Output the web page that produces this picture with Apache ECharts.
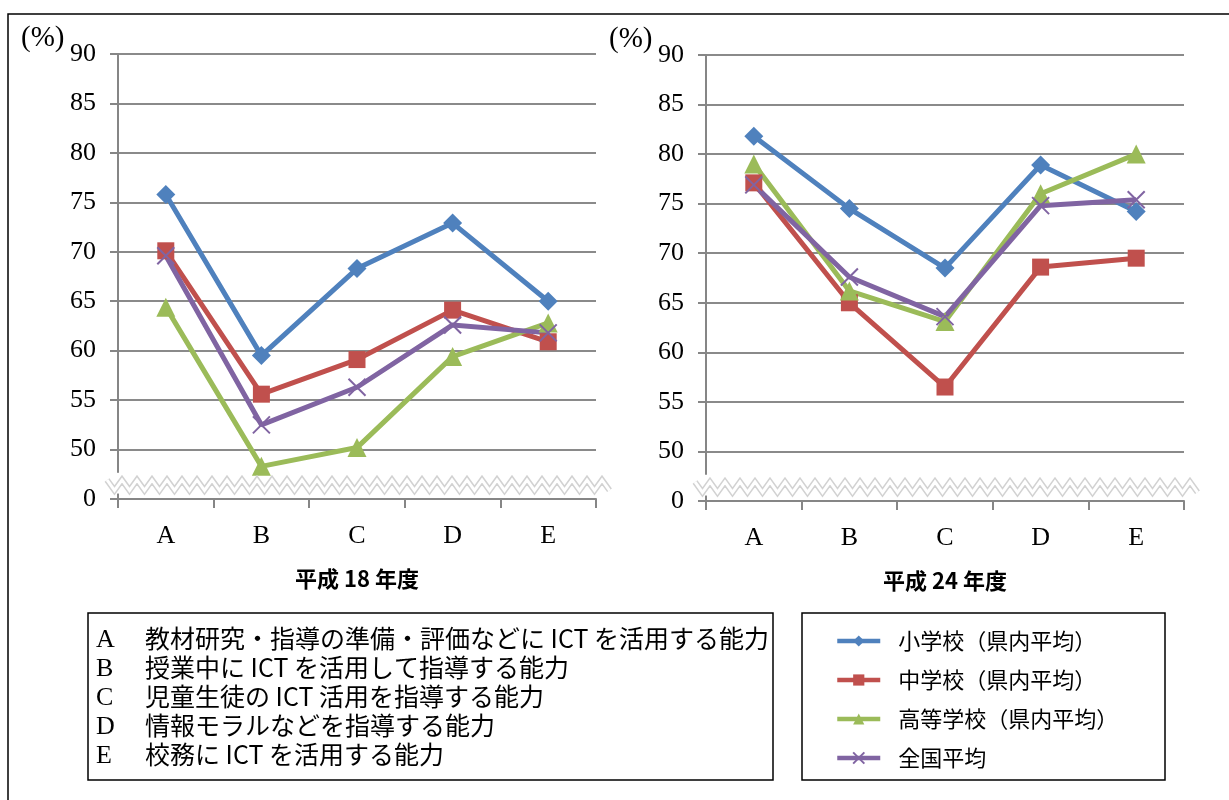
<!DOCTYPE html>
<html>
<head>
<meta charset="utf-8">
<script src="https://cdn.jsdelivr.net/npm/echarts@6/dist/echarts.min.js"></script>
<style>
  html, body { margin: 0; padding: 0; background: #fff; }
  #chart { width: 1229px; height: 800px; }
</style>
</head>
<body>
<div id="chart"></div>
<script>
// Ability categories and their descriptions
const categories = ['A', 'B', 'C', 'D', 'E'];
const categoryNotes = [
  '教材研究・指導の準備・評価などに ICT を活用する能力',
  '授業中に ICT を活用して指導する能力',
  '児童生徒の ICT 活用を指導する能力',
  '情報モラルなどを指導する能力',
  '校務に ICT を活用する能力'
];
const seriesNames = ['小学校（県内平均）', '中学校（県内平均）', '高等学校（県内平均）', '全国平均'];
const panelTitles = ['平成 18 年度', '平成 24 年度'];

// 平成18年度 (%)
const elementary18 = [75.8, 59.5, 68.3, 72.9, 65.0];
const juniorHigh18 = [70.1, 55.6, 59.1, 64.1, 60.9];
const highSchool18 = [64.4, 48.3, 50.2, 59.4, 62.8];
const national18   = [69.6, 52.5, 56.3, 62.6, 61.8];

// 平成24年度 (%)
const elementary24 = [81.8, 74.5, 68.5, 78.9, 74.2];
const juniorHigh24 = [77.1, 65.0, 56.5, 68.6, 69.5];
const highSchool24 = [79.0, 66.2, 63.1, 76.0, 80.0];
const national24   = [76.9, 67.6, 63.6, 74.8, 75.4];

// Value axis: the bottom tick stands for 0, the axis is broken between 0 and 50
const yMin = 45, yMax = 90, yStep = 5;
const brokenBaseLabel = '0';
const unitLabel = '(%)';

const colors = ['#4F81BD', '#C0504D', '#9BBB59', '#8064A2'];
const symbols = ['diamond', 'rect', 'triangle', 'path://M0,0L10,10M10,0L0,10'];
const symbolSizes = [19, 17, 19, 17];

const grids = [
  { left: 118, top: 54, width: 478, height: 445 },
  { left: 706, top: 55, width: 478, height: 446 }
];

const serifFont = '"Liberation Serif", "Times New Roman", serif';
const jpFont = '"Noto Sans CJK JP", "Noto Sans", sans-serif';
const axisGray = '#868686';

function makeSeries(name, data, k, panel) {
  const isCross = k === 3;
  return {
    type: 'line',
    name: name,
    data: data,
    xAxisIndex: panel,
    yAxisIndex: panel,
    symbol: symbols[k],
    symbolSize: symbolSizes[k],
    lineStyle: { color: colors[k], width: 5 },
    itemStyle: isCross
      ? { color: 'rgba(0,0,0,0)', borderColor: colors[k], borderWidth: 2 }
      : { color: colors[k] },
    emphasis: { disabled: true },
    animation: false
  };
}

const panelData = [
  [elementary18, juniorHigh18, highSchool18, national18],
  [elementary24, juniorHigh24, highSchool24, national24]
];

const series = [];
panelData.forEach((set, p) => set.forEach((d, k) => series.push(makeSeries(seriesNames[k], d, k, p))));

const xAxes = grids.map((g, i) => ({
  type: 'category',
  gridIndex: i,
  data: categories,
  boundaryGap: true,
  name: panelTitles[i],
  nameLocation: 'middle',
  nameGap: 69,
  nameTextStyle: { fontFamily: jpFont, fontSize: 22, fontWeight: 'bold', color: '#000' },
  axisLine: { lineStyle: { color: axisGray, width: 2 } },
  axisTick: { show: true, length: 9, lineStyle: { color: axisGray, width: 2 } },
  axisLabel: { fontFamily: serifFont, fontSize: 26, color: '#000', margin: 24 },
  splitLine: { show: false }
}));

const yAxes = grids.map((g, i) => ({
  type: 'value',
  gridIndex: i,
  min: yMin,
  max: yMax,
  interval: yStep,
  axisLine: { show: true, lineStyle: { color: axisGray, width: 2 } },
  axisTick: { show: true, length: 8, lineStyle: { color: axisGray, width: 2 } },
  axisLabel: {
    fontFamily: serifFont, fontSize: 26, color: '#000', margin: 22,
    formatter: v => (v === yMin ? brokenBaseLabel : String(v))
  },
  splitLine: { show: true, lineStyle: { color: '#8a8a8a', width: 1.8 } }
}));

const chart = echarts.init(document.getElementById('chart'));
chart.setOption({
  animation: false,
  backgroundColor: '#fff',
  grid: grids,
  xAxis: xAxes,
  yAxis: yAxes,
  series: series,
  legend: {
    data: seriesNames,
    orient: 'vertical',
    left: 830,
    top: 623,
    itemWidth: 43,
    itemHeight: 14,
    itemGap: 13,
    selectedMode: false,
    lineStyle: { width: 4.5 },
    textStyle: { fontFamily: jpFont, fontSize: 22, color: '#000', lineHeight: 26, padding: [0, 0, 0, 13] }
  }
});

// Decorations: outer frame, axis breaks, unit labels, note boxes
const graphics = [];
graphics.push({
  type: 'rect', silent: true, z: 0,
  shape: { x: 8, y: 14, width: 1250, height: 820 },
  style: { fill: 'none', stroke: '#000', lineWidth: 1.5 }
});

grids.forEach((g, i) => {
  const yBreak = chart.convertToPixel({ yAxisIndex: i }, 46.4);
  const yGapTop = chart.convertToPixel({ yAxisIndex: i }, 47.65);
  const yGapBottom = chart.convertToPixel({ yAxisIndex: i }, 45.55);
  // gap in the vertical axis line
  graphics.push({
    type: 'rect', silent: true, z: 10,
    shape: { x: g.left - 3, y: yGapTop, width: 6, height: yGapBottom - yGapTop },
    style: { fill: '#fff' }
  });
  // zigzag break band
  const pts = [];
  const x0 = g.left - 11, x1 = g.left + g.width + 16;
  const half = 7.5, amp = 5.2;
  let up = true;
  for (let x = x0; x <= x1 + 0.01; x += half) {
    pts.push([x, yBreak + (up ? -amp : amp)]);
    up = !up;
  }
  graphics.push({
    type: 'polyline', silent: true, z: 11,
    shape: { points: pts },
    style: { stroke: '#d2d2d2', lineWidth: 6, fill: 'none', lineJoin: 'miter' }
  });
  graphics.push({
    type: 'polyline', silent: true, z: 12,
    shape: { points: pts },
    style: { stroke: '#fff', lineWidth: 3, fill: 'none', lineJoin: 'miter' }
  });
  // unit label
  graphics.push({
    type: 'text', silent: true, z: 12,
    x: g.left - 97, y: g.top - 16,
    style: { text: unitLabel, font: '29px ' + serifFont, fill: '#000', verticalAlign: 'middle' }
  });
});

// category description box
graphics.push({
  type: 'rect', silent: true, z: 5,
  shape: { x: 88, y: 613, width: 685, height: 167 },
  style: { fill: 'none', stroke: '#000', lineWidth: 1.5 }
});
categories.forEach((c, i) => {
  const y = 638 + i * 29;
  graphics.push({
    type: 'text', silent: true, z: 6, x: 96, y: y + 2,
    style: { text: c, font: '26px ' + serifFont, fill: '#000', verticalAlign: 'middle' }
  });
  graphics.push({
    type: 'text', silent: true, z: 6, x: 145, y: y,
    style: { text: categoryNotes[i], font: '25px ' + jpFont, fill: '#000', verticalAlign: 'middle' }
  });
});

// series legend box
graphics.push({
  type: 'rect', silent: true, z: 5,
  shape: { x: 802, y: 613, width: 363, height: 167 },
  style: { fill: 'none', stroke: '#000', lineWidth: 1.5 }
});

chart.setOption({ graphic: graphics });
</script>
</body>
</html>
